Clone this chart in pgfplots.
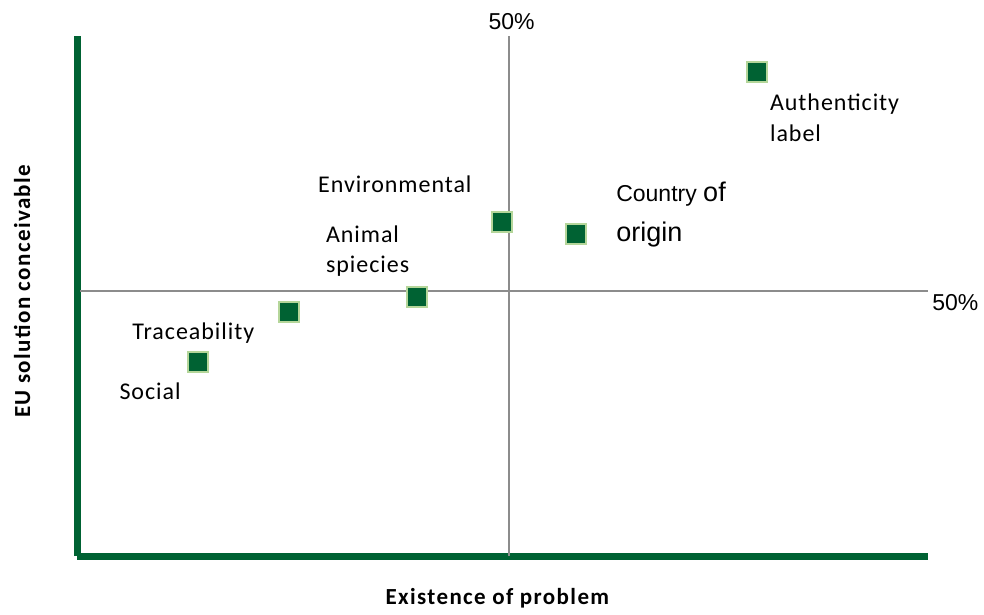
\documentclass[border=0pt]{standalone}
\usepackage{pgfplots}
\pgfplotsset{compat=1.18}
\usepackage{fontspec}
\setmainfont{Liberation Sans}
\newfontfamily\lblfont[LetterSpace=4]{Carlito}
\newfontfamily\ttlfont[LetterSpace=6]{Carlito}
\definecolor{dgreen}{HTML}{006233}
\definecolor{lgreen}{HTML}{B5D69A}
\definecolor{cross}{HTML}{8C8C8C}
\pgfplotstableread{
x y
78.7 91.3
57.8 60.8
49.2 63.0
39.4 48.9
24.5 46.0
14.0 36.6
}\pts
\begin{document}
\begin{tikzpicture}[x=1pt,y=1pt]
\path[use as bounding box] (0,0) rectangle (984,614);
\begin{axis}[
  at={(77pt,58pt)}, anchor=origin,
  scale only axis, width=851pt, height=520pt,
  xmin=0, xmax=98.5, ymin=0, ymax=98.1,
  axis lines*=left,
  axis line style={line width=7pt, dgreen, -},
  xtick=\empty, ytick=\empty,
  clip=false,
  xlabel={\ttlfont\bfseries\fontsize{23}{27}\selectfont Existence of problem},
  ylabel={\ttlfont\bfseries\fontsize{23}{27}\selectfont EU solution conceivable},
  xlabel style={at={(axis description cs:0.494,0)}, anchor=center, yshift=-42pt},
  ylabel style={at={(axis description cs:0,0.509)}, anchor=center, yshift=55pt},
]
\draw[cross, line width=2pt] (axis cs:50,0) -- (axis cs:50,98.1);
\draw[cross, line width=2pt] (axis cs:0.4,50) -- (axis cs:98.5,50);
\addplot[only marks, mark=square*, mark size=10pt, mark options={fill=dgreen, draw=lgreen, line width=2pt}] table {\pts};
\node[anchor=south, font=\fontsize{23}{26}\selectfont] at (axis cs:50.3,98.6) {50\%};
\node[anchor=west, font=\fontsize{23}{26}\selectfont] at (axis cs:98.6,47.9) {50\%};
\node[anchor=north west, align=left, font=\lblfont\fontsize{24}{31}\selectfont, inner sep=0pt] at (axis cs:80.2,87.2) {Authenticity\\label};
\node[anchor=west, font=\lblfont\fontsize{24}{31}\selectfont, inner sep=0pt] at (axis cs:27.9,70.2) {Environmental};
\node[anchor=west, align=left, font=\lblfont\fontsize{24}{31}\selectfont, inner sep=0pt] at (axis cs:28.8,60.75) {Animal};
\node[anchor=west, align=left, font=\lblfont\fontsize{24}{31}\selectfont, inner sep=0pt] at (axis cs:28.8,54.7) {spiecies};
\node[anchor=west, font=\lblfont\fontsize{24}{31}\selectfont, inner sep=0pt] at (axis cs:6.4,42.0) {Traceability};
\node[anchor=west, font=\lblfont\fontsize{24}{31}\selectfont, inner sep=0pt] at (axis cs:4.9,31.1) {Social};
\node[anchor=base west, inner sep=0pt] at (axis cs:62.4,66.85) {\fontsize{23}{26}\selectfont Country \fontsize{27}{30}\selectfont of};
\node[anchor=base west, inner sep=0pt, font=\fontsize{27}{30}\selectfont] at (axis cs:62.4,59.3) {origin};
\end{axis}
\end{tikzpicture}
\end{document}
